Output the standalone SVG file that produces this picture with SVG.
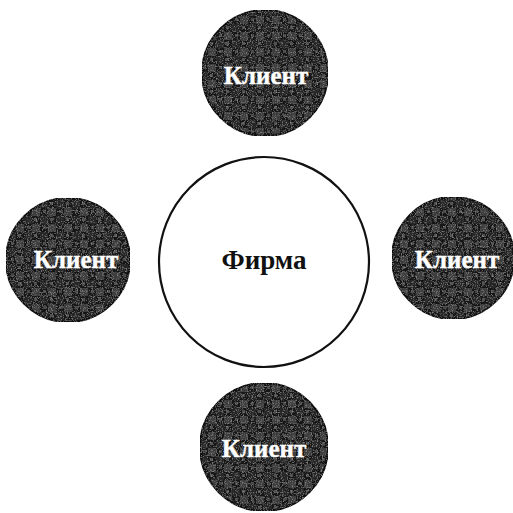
<svg xmlns="http://www.w3.org/2000/svg" width="513" height="513" viewBox="0 0 513 513">
  <defs>
    <pattern id="check" width="16" height="16" patternUnits="userSpaceOnUse">
      <rect width="16" height="16" fill="#141414"/>
      <rect x="0" y="0" width="8" height="8" fill="#3c3c3c"/>
      <rect x="8" y="8" width="8" height="8" fill="#262626"/>
      <rect x="2" y="10" width="3" height="3" fill="#505050"/>
      <rect x="11" y="2" width="3" height="3" fill="#474747"/>
    </pattern>
    <filter id="grain" x="0" y="0" width="1" height="1">
      <feTurbulence type="fractalNoise" baseFrequency="0.8" numOctaves="2" seed="3" result="n"/>
      <feColorMatrix in="n" type="matrix" values="0 0 0 0 0.55  0 0 0 0 0.55  0 0 0 0 0.55  0 0 0 1.2 -0.62" result="g"/>
      <feComposite in="g" in2="SourceGraphic" operator="in" result="gg"/>
      <feMerge><feMergeNode in="SourceGraphic"/><feMergeNode in="gg"/></feMerge>
    </filter>
  </defs>
  <style>
    .client { fill: url(#check); stroke: #111; stroke-width: 2; filter: url(#grain); }
    .firm { fill: #fff; stroke: #111; stroke-width: 2.2; }
    .lbl { font-family: "Liberation Serif", "DejaVu Serif", serif; font-weight: bold; text-anchor: middle; }
    .clbl { fill: #fff; font-size: 25px; stroke: #fff; stroke-width: 0.4; }
    .flbl { fill: #111; font-size: 27px; }
  </style>
  <rect width="513" height="513" fill="#fff"/>
  <g id="connectors"></g>
  <g id="firm">
    <circle class="firm" cx="264" cy="262" r="105"/>
    <text class="lbl flbl" x="264" y="269">Фирма</text>
  </g>
  <g id="client-top">
    <circle class="client" cx="265" cy="73" r="63"/>
    <text class="lbl clbl" x="266" y="84">Клиент</text>
  </g>
  <g id="client-left">
    <circle class="client" cx="68" cy="260" r="62"/>
    <text class="lbl clbl" x="76" y="268">Клиент</text>
  </g>
  <g id="client-right">
    <circle class="client" cx="453" cy="258" r="61"/>
    <text class="lbl clbl" x="457" y="268">Клиент</text>
  </g>
  <g id="client-bottom">
    <circle class="client" cx="264" cy="447" r="64"/>
    <text class="lbl clbl" x="264" y="457">Клиент</text>
  </g>
</svg>
